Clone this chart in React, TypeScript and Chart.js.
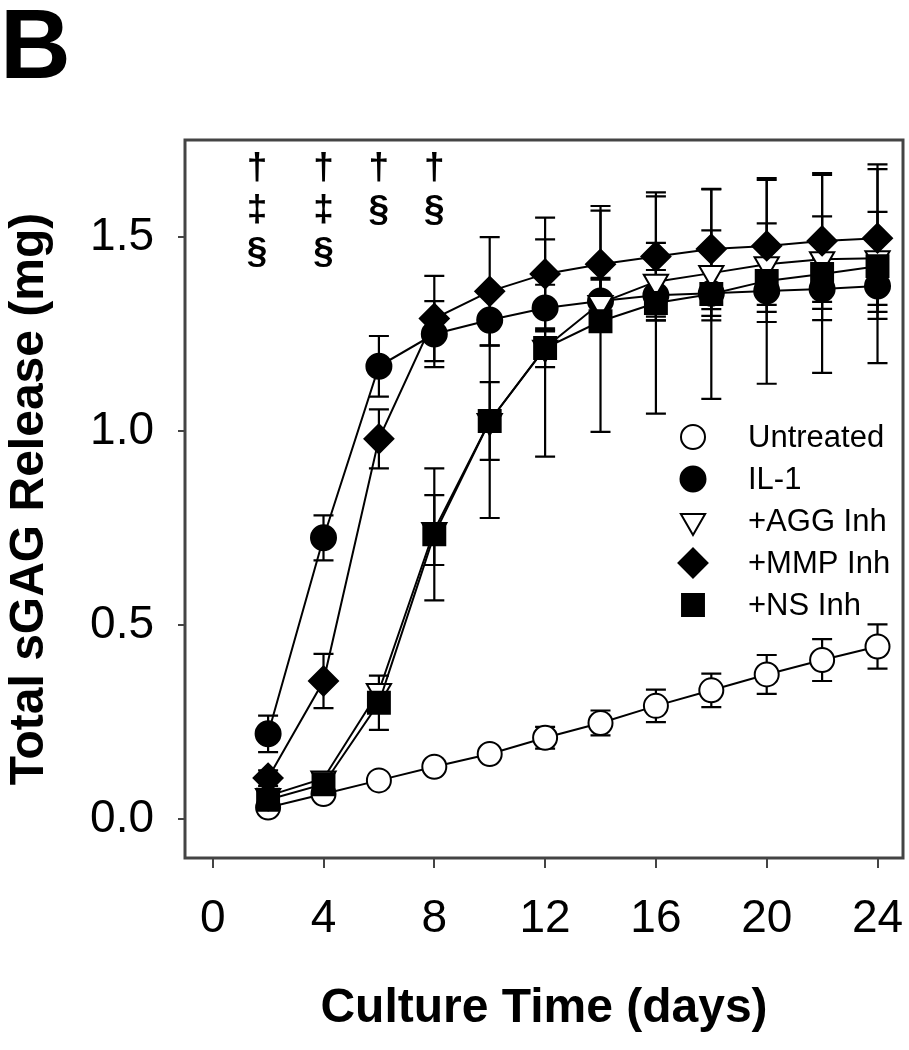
import React, { useEffect, useRef } from "react";
import { Chart, registerables } from "chart.js";

Chart.register(...registerables);

// ---------- data ----------
const days = [2, 4, 6, 8, 10, 12, 14, 16, 18, 20, 22, 24];

const untreated = [0.03, 0.065, 0.1, 0.135, 0.168, 0.21, 0.248, 0.292, 0.332, 0.373, 0.41, 0.445];
const untreatedErr = [0.005, 0.008, 0.008, 0.01, 0.015, 0.028, 0.032, 0.042, 0.043, 0.05, 0.054, 0.057];

const il1 = [0.22, 0.725, 1.167, 1.25, 1.286, 1.317, 1.335, 1.35, 1.355, 1.361, 1.366, 1.374];
const il1Err = [0.047, 0.058, 0.078, 0.085, 0.065, 0.06, 0.06, 0.065, 0.07, 0.08, 0.08, 0.085];

const aggInh = [0.06, 0.105, 0.33, 0.745, 1.026, 1.215, 1.33, 1.385, 1.407, 1.43, 1.443, 1.445];
const aggInhErr = [0.01, 0.015, 0.015, 0.09, 0.25, 0.05, 0.06, 0.1, 0.11, 0.105, 0.11, 0.12];

const mmpInh = [0.106, 0.356, 0.98, 1.29, 1.36, 1.405, 1.43, 1.45, 1.469, 1.477, 1.49, 1.497];
const mmpInhErr = [0.02, 0.07, 0.076, 0.11, 0.14, 0.145, 0.15, 0.155, 0.155, 0.17, 0.175, 0.19];

const nsInh = [0.05, 0.09, 0.3, 0.734, 1.026, 1.214, 1.283, 1.33, 1.353, 1.387, 1.405, 1.425];
const nsInhErr = [0.01, 0.012, 0.07, 0.17, 0.1, 0.28, 0.285, 0.285, 0.27, 0.265, 0.255, 0.25];

const seriesLabels = ["Untreated", "IL-1", "+AGG Inh", "+MMP Inh", "+NS Inh"];

const xTicks = [0, 4, 8, 12, 16, 20, 24];
const yTicks = [0, 0.5, 1.0, 1.5];

const annotationDays = [1.6, 4, 6, 8];
const annotationMarks = [
  ["†", "‡", "§"],
  ["†", "‡", "§"],
  ["†", "§"],
  ["†", "§"],
];

const panelLetter = "B";
const xTitle = "Culture Time (days)";
const yTitle = "Total sGAG Release (mg)";

// ---------- styles ----------
const FONT = "'Liberation Sans', Arial, Helvetica, sans-serif";

type MarkerSpec = { style: string; fill: string; r: number; rot: number; order: number };
const markers: MarkerSpec[] = [
  { style: "circle", fill: "#ffffff", r: 12, rot: 0, order: 4 },
  { style: "circle", fill: "#000000", r: 12.5, rot: 0, order: 3 },
  { style: "triangle", fill: "#ffffff", r: 14, rot: 180, order: 2 },
  { style: "rectRot", fill: "#000000", r: 14.5, rot: 0, order: 0 },
  { style: "rect", fill: "#000000", r: 15.5, rot: 0, order: 1 },
];

function drawMarker(ctx: CanvasRenderingContext2D, m: MarkerSpec, x: number, y: number) {
  ctx.save();
  ctx.beginPath();
  const r = m.r;
  if (m.style === "circle") {
    ctx.arc(x, y, r, 0, Math.PI * 2);
  } else if (m.style === "triangle") {
    const rad0 = Math.PI;
    for (let k = 0; k < 3; k++) {
      const a = rad0 + (k * 2 * Math.PI) / 3;
      const px = x + Math.sin(a) * r;
      const py = y - Math.cos(a) * r;
      if (k === 0) ctx.moveTo(px, py);
      else ctx.lineTo(px, py);
    }
    ctx.closePath();
  } else if (m.style === "rectRot") {
    ctx.moveTo(x - r, y);
    ctx.lineTo(x, y - r);
    ctx.lineTo(x + r, y);
    ctx.lineTo(x, y + r);
    ctx.closePath();
  } else {
    const s = Math.SQRT1_2 * r;
    ctx.rect(x - s, y - s, 2 * s, 2 * s);
  }
  ctx.fillStyle = m.fill;
  ctx.fill();
  ctx.lineWidth = 2;
  ctx.strokeStyle = "#000";
  ctx.stroke();
  ctx.restore();
}

const errorBarPlugin = {
  id: "errorBars",
  beforeDatasetsDraw(chart: any) {
    const { ctx } = chart;
    const xs = chart.scales.x;
    const ys = chart.scales.y;
    ctx.save();
    ctx.strokeStyle = "#000";
    ctx.lineWidth = 2.2;
    chart.data.datasets.forEach((ds: any) => {
      const errs: number[] = ds.errors || [];
      ds.data.forEach((p: any, j: number) => {
        const e = errs[j];
        if (!e) return;
        const px = xs.getPixelForValue(p.x);
        const top = ys.getPixelForValue(p.y + e);
        const bot = ys.getPixelForValue(p.y - e);
        ctx.beginPath();
        ctx.moveTo(px, top);
        ctx.lineTo(px, bot);
        ctx.moveTo(px - 10, top);
        ctx.lineTo(px + 10, top);
        ctx.moveTo(px - 10, bot);
        ctx.lineTo(px + 10, bot);
        ctx.stroke();
      });
    });
    ctx.restore();
  },
};

const decorPlugin = {
  id: "decor",
  afterDraw(chart: any) {
    const { ctx, chartArea } = chart;
    const xs = chart.scales.x;
    ctx.save();
    // frame
    ctx.strokeStyle = "#444";
    ctx.lineWidth = 3;
    ctx.strokeRect(chartArea.left, chartArea.top, chartArea.right - chartArea.left, chartArea.bottom - chartArea.top);

    // panel letter
    ctx.fillStyle = "#000";
    ctx.font = `bold 98px ${FONT}`;
    ctx.textAlign = "left";
    ctx.textBaseline = "alphabetic";
    ctx.fillText(panelLetter, 0, 78);

    // significance marks
    ctx.font = `bold 37px ${FONT}`;
    ctx.textAlign = "center";
    ctx.textBaseline = "middle";
    annotationDays.forEach((d, i) => {
      const px = xs.getPixelForValue(d);
      annotationMarks[i].forEach((s, k) => {
        ctx.fillText(s, px, chartArea.top + 29 + k * 42);
      });
    });

    // legend
    const mx = chartArea.right - 210;
    const tx = chartArea.right - 155;
    const ly0 = chartArea.top + 297;
    ctx.font = `31px ${FONT}`;
    ctx.textAlign = "left";
    ctx.textBaseline = "middle";
    seriesLabels.forEach((lab, i) => {
      const ly = ly0 + i * 42;
      drawMarker(ctx, markers[i], mx, ly);
      ctx.fillStyle = "#000";
      ctx.fillText(lab, tx, ly + 1);
    });
    ctx.restore();
  },
};

export default function App() {
  const canvasRef = useRef<HTMLCanvasElement | null>(null);

  useEffect(() => {
    const canvas = canvasRef.current;
    if (!canvas) return;
    const seriesValues = [untreated, il1, aggInh, mmpInh, nsInh];
    const seriesErrors = [untreatedErr, il1Err, aggInhErr, mmpInhErr, nsInhErr];

    const datasets = seriesValues.map((vals, i) => ({
      label: seriesLabels[i],
      data: days.map((d, j) => ({ x: d, y: vals[j] })),
      errors: seriesErrors[i],
      borderColor: "#000",
      borderWidth: 2,
      pointStyle: markers[i].style,
      pointRadius: markers[i].r,
      pointRotation: markers[i].rot,
      pointBackgroundColor: markers[i].fill,
      pointBorderColor: "#000",
      pointBorderWidth: 2,
      pointHoverRadius: markers[i].r,
      tension: 0,
      fill: false,
      order: markers[i].order,
      clip: false,
    }));

    const chart = new Chart(canvas, {
      type: "line",
      data: { datasets } as any,
      options: {
        animation: false,
        responsive: false,
        devicePixelRatio: 1,
        events: [],
        layout: { autoPadding: false, padding: { top: 140, right: 6, left: 0, bottom: 0 } },
        plugins: {
          legend: { display: false },
          tooltip: { enabled: false },
        },
        scales: {
          x: {
            type: "linear",
            min: -1,
            max: 24.92,
            afterBuildTicks: (s: any) => {
              s.ticks = xTicks.map((v) => ({ value: v }));
            },
            afterFit: (s: any) => {
              s.height = 192;
              s.paddingLeft = 0;
              s.paddingRight = 0;
            },
            ticks: {
              font: { family: FONT, size: 46 },
              color: "#000",
              padding: 24,
              maxRotation: 0,
              autoSkip: false,
              callback: (v: any) => String(v),
            },
            grid: {
              display: true,
              drawOnChartArea: false,
              drawTicks: true,
              tickLength: 10,
              color: "#444",
              lineWidth: 2,
            },
            border: { display: false },
            title: {
              display: true,
              text: xTitle,
              color: "#000",
              font: { family: FONT, size: 48, weight: "bold" },
              padding: { top: 0, bottom: 12 },
            },
          },
          y: {
            type: "linear",
            min: -0.1,
            max: 1.75,
            afterBuildTicks: (s: any) => {
              s.ticks = yTicks.map((v) => ({ value: v }));
            },
            afterFit: (s: any) => {
              s.width = 185;
              s.paddingTop = 0;
              s.paddingBottom = 0;
            },
            ticks: {
              font: { family: FONT, size: 46 },
              color: "#000",
              padding: 24,
              autoSkip: false,
              callback: (v: any) => Number(v).toFixed(1),
            },
            grid: {
              display: true,
              drawOnChartArea: false,
              drawTicks: true,
              tickLength: 7,
              color: "#444",
              lineWidth: 2,
            },
            border: { display: false },
            title: {
              display: true,
              text: yTitle,
              color: "#000",
              font: { family: FONT, size: 48, weight: "bold" },
              padding: { top: 1, bottom: 0 },
            },
          },
        },
      } as any,
      plugins: [errorBarPlugin, decorPlugin],
    });

    return () => {
      chart.destroy();
    };
  }, []);

  return (
    <div style={{ position: "absolute", left: 0, top: 0, width: 909, height: 1050, background: "#fff" }}>
      <canvas ref={canvasRef} width={909} height={1050} style={{ display: "block", width: 909, height: 1050 }} />
    </div>
  );
}
